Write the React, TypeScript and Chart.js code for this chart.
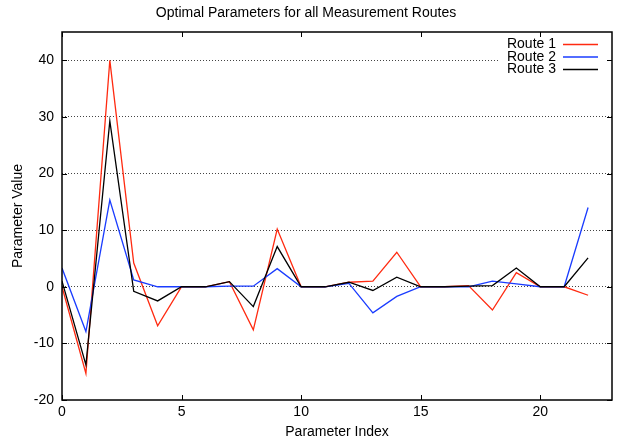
import React, { useEffect, useRef } from "react";
import { Chart, registerables } from "chart.js";

Chart.register(...registerables);

const paramIndex = [0, 1, 2, 3, 4, 5, 6, 7, 8, 9, 10, 11, 12, 13, 14, 15, 16, 17, 18, 19, 20, 21, 22];
const route1 = [0, -15.3, 40, 4.2, -6.9, 0, 0, 0.9, -7.6, 10.2, 0, 0, 0.8, 1.0, 6.1, 0, 0, 0.2, -4.1, 2.5, 0, 0, -1.5];
const route2 = [3.3, -7.9, 15.3, 1.2, 0, 0, 0, 0.1, 0.1, 3.2, 0, 0, 0.6, -4.6, -1.7, 0, 0, 0, 1.0, 0.5, 0, 0, 14.0];
const route3 = [1.0, -13.8, 29.3, -0.8, -2.5, 0, 0, 0.9, -3.5, 7.1, 0, 0, 0.8, -0.65, 1.7, 0, 0, 0.1, 0.2, 3.3, 0, 0, 5.1];
const seriesNames = ["Route 1", "Route 2", "Route 3"];
const seriesColors = ["#ff2a10", "#1a3cff", "#000000"];
const titleText = "Optimal Parameters for all Measurement Routes";
const xTitle = "Parameter Index";
const yTitle = "Parameter Value";

const FONT = "'Liberation Sans', Arial, Helvetica, sans-serif";

const frame = {
  id: "frame",
  afterDatasetsDraw(chart: any) {
    const { ctx, chartArea } = chart;
    const { left, right, top, bottom } = chartArea;
    ctx.save();
    // legend background
    ctx.fillStyle = "#ffffff";
    ctx.fillRect(500, 36, 108, 40);
    // legend entries
    ctx.font = `14px ${FONT}`;
    ctx.textAlign = "right";
    ctx.textBaseline = "middle";
    const rows = [44.5, 57, 69.5];
    seriesNames.forEach((n, i) => {
      ctx.fillStyle = "#000";
      ctx.fillText(n, 556, rows[i]);
      ctx.strokeStyle = seriesColors[i];
      ctx.lineWidth = 1.3;
      ctx.beginPath();
      ctx.moveTo(563, rows[i]);
      ctx.lineTo(598, rows[i]);
      ctx.stroke();
    });
    // tick marks inward
    ctx.strokeStyle = "#000";
    ctx.lineWidth = 1;
    const tl = 5;
    chart.scales.x.ticks.forEach((t: any) => {
      const px = Math.round(chart.scales.x.getPixelForValue(t.value)) + 0.5;
      ctx.beginPath();
      ctx.moveTo(px, bottom);
      ctx.lineTo(px, bottom - tl);
      ctx.moveTo(px, top);
      ctx.lineTo(px, top + tl);
      ctx.stroke();
    });
    chart.scales.y.ticks.forEach((t: any) => {
      const py = Math.round(chart.scales.y.getPixelForValue(t.value)) + 0.5;
      ctx.beginPath();
      ctx.moveTo(left, py);
      ctx.lineTo(left + tl, py);
      ctx.moveTo(right, py);
      ctx.lineTo(right - tl, py);
      ctx.stroke();
    });
    // box
    ctx.lineWidth = 1.5;
    ctx.strokeRect(left, top, right - left, bottom - top);
    ctx.restore();
  },
};

export default function App() {
  const ref = useRef<HTMLCanvasElement>(null);
  useEffect(() => {
    const mk = (arr: number[]) => paramIndex.map((x, i) => ({ x, y: arr[i] }));
    const all = [route1, route2, route3];
    const chart = new Chart(ref.current as HTMLCanvasElement, {
      type: "line",
      data: {
        datasets: all.map((arr, i) => ({
          label: seriesNames[i],
          data: mk(arr),
          borderColor: seriesColors[i],
          backgroundColor: seriesColors[i],
          borderWidth: 1.3,
          pointRadius: 0,
          tension: 0,
          fill: false,
          order: 2 - i,
        })),
      },
      options: {
        responsive: false,
        animation: false,
        devicePixelRatio: 1,
        layout: { padding: { left: 0, right: 6, top: 0, bottom: 0 } },
        plugins: {
          legend: { display: false },
          tooltip: { enabled: false },
          title: {
            display: true,
            text: titleText,
            color: "#000",
            font: { family: FONT, size: 14, weight: "normal" },
            padding: { top: 5, bottom: 10.2 },
          },
        },
        scales: {
          x: {
            type: "linear",
            min: 0,
            max: 23,
            afterFit: (s: any) => {
              s.height = 41;
            },
            border: { display: false },
            grid: { display: false, drawTicks: false },
            ticks: {
              stepSize: 5,
              includeBounds: false,
              padding: 4,
              color: "#000",
              maxRotation: 0,
              font: { family: FONT, size: 14 },
            },
            title: {
              display: true,
              text: xTitle,
              color: "#000",
              font: { family: FONT, size: 14 },
              padding: { top: 0, bottom: 0.6 },
            },
          },
          y: {
            type: "linear",
            min: -20,
            max: 45,
            afterFit: (s: any) => {
              s.width = 62;
            },
            border: { display: false, dash: [1, 2] },
            grid: {
              drawTicks: false,
              color: (c: any) => (c.tick && (c.tick.value === -20) ? "rgba(0,0,0,0)" : "#444"),
              lineWidth: 1,
            },
            ticks: {
              stepSize: 10,
              includeBounds: false,
              padding: 8,
              color: "#000",
              font: { family: FONT, size: 14 },
            },
            title: {
              display: true,
              text: yTitle,
              color: "#000",
              font: { family: FONT, size: 14 },
              padding: { top: 9.6, bottom: 0 },
            },
          },
        },
      },
      plugins: [frame],
    });
    return () => chart.destroy();
  }, []);
  return (
    <div style={{ position: "absolute", left: 0, top: 0, width: 618, height: 441, background: "#fff" }}>
      <canvas ref={ref} width={618} height={441} style={{ width: 618, height: 441 }} />
    </div>
  );
}
